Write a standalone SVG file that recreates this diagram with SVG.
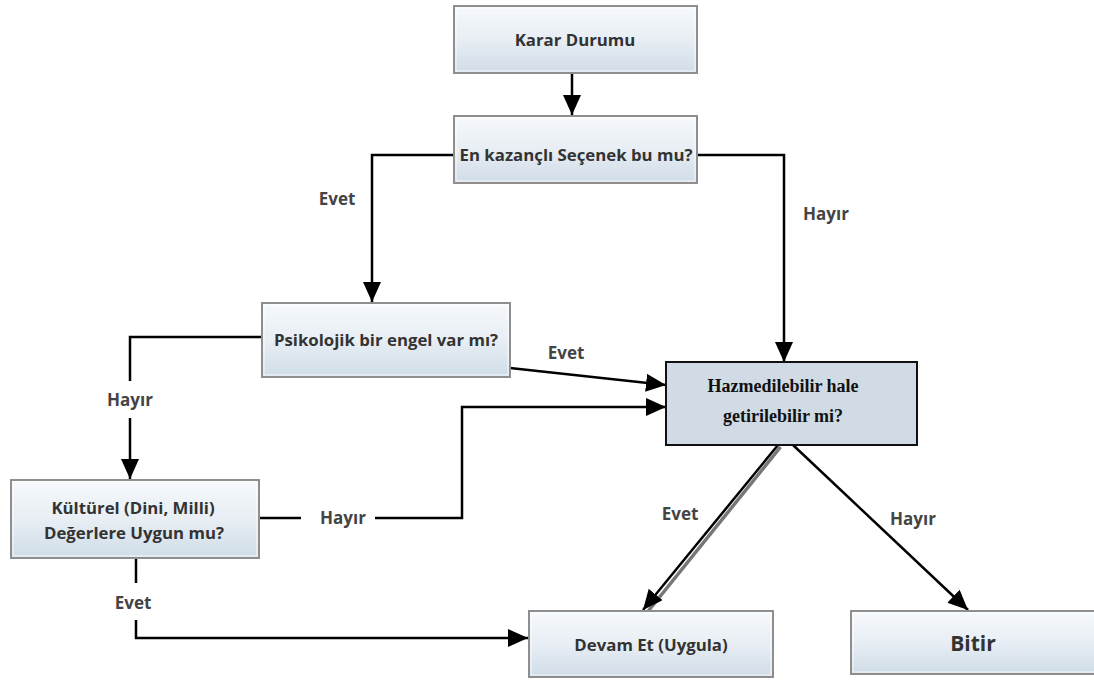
<svg xmlns="http://www.w3.org/2000/svg" width="1094" height="682" viewBox="0 0 1094 682">
  <defs>
    <linearGradient id="boxFill" x1="0" y1="0" x2="0" y2="1">
      <stop offset="0" stop-color="#f6f9fc"/>
      <stop offset="0.5" stop-color="#e8eef4"/>
      <stop offset="1" stop-color="#cfdce7"/>
    </linearGradient>
    <marker id="arrow" viewBox="0 0 20 18" refX="20" refY="9" markerWidth="20" markerHeight="18" markerUnits="userSpaceOnUse" orient="auto">
      <path d="M0,0 L20,9 L0,18 Z" fill="#000"/>
    </marker>
  </defs>
  <style>
    .box { fill: url(#boxFill); stroke: #8e8e8e; stroke-width: 2; }
    .inner { fill: none; stroke: #ffffff; stroke-width: 1; opacity: 0.8; }
    .lbl { font-family: "Open Sans", "Noto Sans", sans-serif; font-weight: bold; font-size: 16.8px; fill: #333; text-anchor: middle; }
    .edge { font-family: "Open Sans", "Noto Sans", sans-serif; font-weight: bold; font-size: 17px; fill: #444; text-anchor: middle; }
    .conn { fill: none; stroke: #000; stroke-width: 2.5; }
    .serif { font-family: "Liberation Serif", "Times New Roman", serif; font-weight: bold; font-size: 18px; fill: #111; text-anchor: middle; }
  </style>
  <rect width="1094" height="682" fill="#fff"/>

  <!-- connectors -->
  <g id="connectors">
    <path class="conn" d="M572,73 V115" marker-end="url(#arrow)"/>
    <path class="conn" d="M453,155 H372 V302" marker-end="url(#arrow)"/>
    <path class="conn" d="M697,155 H784 V362" marker-end="url(#arrow)"/>
    <path class="conn" d="M261,337 H130 V381"/>
    <path class="conn" d="M130,418 V479" marker-end="url(#arrow)"/>
    <path class="conn" d="M510,368 L666,385" marker-end="url(#arrow)"/>
    <path class="conn" d="M259,518 H301"/>
    <path class="conn" d="M375,518 H462 V407 H666" marker-end="url(#arrow)"/>
    <path class="conn" d="M136,558 V583"/>
    <path class="conn" d="M136,620 V638 H528" marker-end="url(#arrow)"/>
    <path d="M779,446 L646,611" fill="none" stroke="#777" stroke-width="3.5" transform="translate(1.5,1)"/>
    <path class="conn" d="M778,445 L643,610" marker-end="url(#arrow)"/>
    <path class="conn" d="M793,445 L968,610" marker-end="url(#arrow)"/>
    <text class="edge" x="337" y="205">Evet</text>
    <text class="edge" x="826" y="220">Hayır</text>
    <text class="edge" x="130" y="406">Hayır</text>
    <text class="edge" x="566" y="359">Evet</text>
    <text class="edge" x="343" y="524">Hayır</text>
    <text class="edge" x="133" y="609">Evet</text>
    <text class="edge" x="680" y="520">Evet</text>
    <text class="edge" x="913" y="525">Hayır</text>
  </g>

  <g id="karar-durumu">
    <rect class="box" x="454" y="6" width="243" height="67"/>
    <rect class="inner" x="456" y="8" width="239" height="63"/>
    <text class="lbl" x="575" y="46">Karar Durumu</text>
  </g>

  <g id="en-kazancli">
    <rect class="box" x="454" y="116" width="243" height="67"/>
    <rect class="inner" x="456" y="118" width="239" height="63"/>
    <text class="lbl" x="576" y="161">En kazançlı Seçenek bu mu?</text>
  </g>

  <g id="psikolojik">
    <rect class="box" x="262" y="303" width="248" height="74"/>
    <rect class="inner" x="264" y="305" width="244" height="70"/>
    <text class="lbl" x="386" y="346">Psikolojik bir engel var mı?</text>
  </g>

  <g id="hazmedilebilir">
    <rect x="666" y="362" width="251" height="83" fill="#d0dbe5" stroke="#111" stroke-width="2"/>
    <text class="serif" x="783" y="392">Hazmedilebilir hale</text>
    <text class="serif" x="783" y="422">getirilebilir mi?</text>
  </g>

  <g id="kulturel">
    <rect class="box" x="11" y="480" width="248" height="78"/>
    <rect class="inner" x="13" y="482" width="244" height="74"/>
    <text class="lbl" x="133" y="514">Kültürel (Dini, Milli)</text>
    <text class="lbl" x="134" y="539">Değerlere Uygun mu?</text>
  </g>

  <g id="devam-et">
    <rect class="box" x="529" y="611" width="244" height="66"/>
    <rect class="inner" x="531" y="613" width="240" height="62"/>
    <text class="lbl" x="651" y="651">Devam Et (Uygula)</text>
  </g>

  <g id="bitir">
    <rect class="box" x="851" y="611" width="250" height="63"/>
    <rect class="inner" x="853" y="613" width="246" height="59"/>
    <text class="lbl" x="973" y="651" style="font-size:21px">Bitir</text>
  </g>
</svg>
